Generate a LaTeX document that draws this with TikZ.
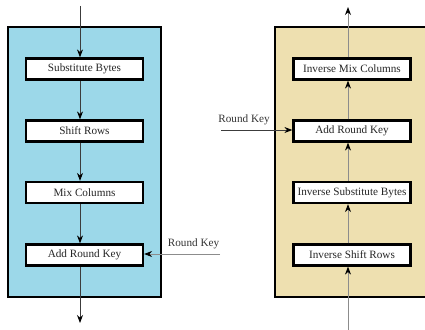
\documentclass[tikz,border=0pt]{standalone}
\usepackage{fontspec}
\setmainfont{Liberation Serif}
\usetikzlibrary{arrows.meta}
\definecolor{encfill}{RGB}{156,216,233}
\definecolor{decfill}{RGB}{238,224,176}
\definecolor{flowL}{RGB}{60,60,60}
\definecolor{flowR}{RGB}{140,140,140}
\tikzset{
  x=1pt, y=1pt,
  panel/.style={draw=black, line width=2.6pt},
  stagebox/.style={draw=black, line width=2.2pt, fill=white, minimum width=117pt,
    minimum height=21pt, inner sep=0pt, font=\fontsize{11.2}{13}\selectfont, text=black!85},
  keylabel/.style={font=\fontsize{11.2}{13}\selectfont, text=black!80, inner sep=0pt},
  flow/.style={line width=0.9pt, -{Stealth[length=8pt,width=6pt,color=black]}},
}
\begin{document}
\begin{tikzpicture}
\path[use as bounding box, clip] (0,0) rectangle (425,-329);

% ---- encryption round ----
\draw[panel, fill=encfill] (8,-27) rectangle (161,-297);
\node[stagebox] (sb)  at (84.5,-69)   {Substitute Bytes};
\node[stagebox] (sr)  at (84.5,-131)  {Shift Rows};
\node[stagebox] (mc)  at (84.5,-192.5){Mix Columns};
\node[stagebox] (ark) at (84.5,-255)  {Add Round Key};
\coordinate (inL)  at (80,-6);
\coordinate (outL) at (80,-323);
\draw[flow, flowL] (inL) -- (sb.north -| inL);
\draw[flow, flowL] (sb.south -| inL) -- (sr.north -| inL);
\draw[flow, flowL] (sr.south -| inL) -- (mc.north -| inL);
\draw[flow, flowL] (mc.south -| inL) -- (ark.north -| inL);
\draw[flow, flowL] (ark.south -| inL) -- (outL);
\node[keylabel] (rkL) at (193.5,-244) {Round Key};
\coordinate (rkLin) at (220,-254);
\draw[flow, flowR] (rkLin) -- (ark.east |- rkLin);

% ---- decryption round ----
\draw[panel, fill=decfill] (275,-27) rectangle (445,-297);
\node[stagebox] (imc)  at (352,-69)   {Inverse Mix Columns};
\node[stagebox] (iark) at (352,-131)  {Add Round Key};
\node[stagebox] (isb)  at (352,-192.5){Inverse Substitute Bytes};
\node[stagebox] (isr)  at (352,-255)  {Inverse Shift Rows};
\coordinate (inR)  at (348,-330);
\coordinate (outR) at (348,-7);
\draw[flow, flowR] (inR) -- (isr.south -| inR);
\draw[flow, flowR] (isr.north -| inR) -- (isb.south -| inR);
\draw[flow, flowR] (isb.north -| inR) -- (iark.south -| inR);
\draw[flow, flowR] (iark.north -| inR) -- (imc.south -| inR);
\draw[flow, flowR] (imc.north -| inR) -- (outR);
\node[keylabel] (rkR) at (244,-120) {Round Key};
\coordinate (rkRin) at (221,-130);
\draw[flow, flowL] (rkRin) -- (iark.west |- rkRin);
\end{tikzpicture}
\end{document}
